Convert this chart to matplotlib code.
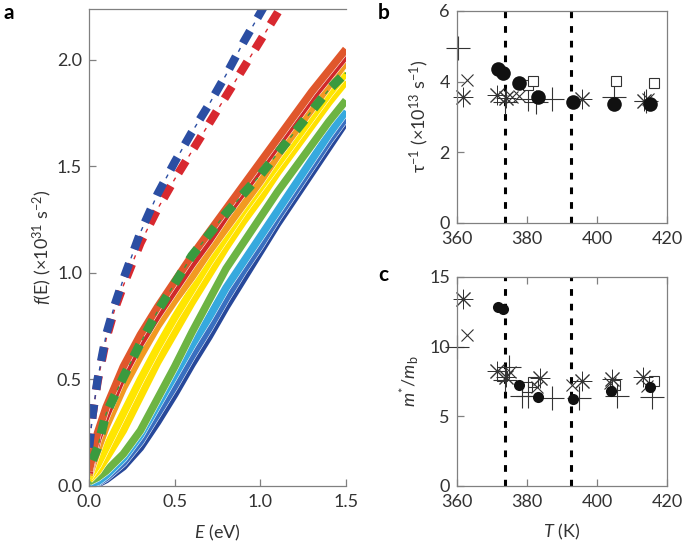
import matplotlib
matplotlib.use('Agg')
import matplotlib.pyplot as plt
import matplotlib.patheffects as pe
import numpy as np

plt.rcParams['font.family'] = ['Lato', 'DejaVu Sans']
plt.rcParams['font.size'] = 13
plt.rcParams['mathtext.fontset'] = 'custom'
plt.rcParams['mathtext.rm'] = 'Lato'
plt.rcParams['mathtext.it'] = 'Lato:italic'
plt.rcParams['mathtext.bf'] = 'Lato:bold'

txt = '#333333'
spine = '#808080'

# ---- panel a data: f(E) curves ----
E = [0, 0.05, 0.1, 0.2, 0.3, 0.4, 0.5, 0.6, 0.7, 0.8, 0.9, 1.0, 1.1, 1.2, 1.3, 1.4, 1.5]
f_darkblue = [0.0, 0.01, 0.03, 0.09, 0.18, 0.30, 0.43, 0.57, 0.70, 0.84, 0.97, 1.10, 1.23, 1.35, 1.47, 1.59, 1.71]
f_blue = [0.0, 0.015, 0.04, 0.11, 0.21, 0.34, 0.47, 0.61, 0.74, 0.88, 1.01, 1.13, 1.26, 1.38, 1.50, 1.62, 1.73]
f_lightblue = [0.01, 0.02, 0.05, 0.13, 0.24, 0.38, 0.52, 0.66, 0.79, 0.93, 1.05, 1.17, 1.29, 1.41, 1.53, 1.65, 1.76]
f_green = [0.02, 0.04, 0.07, 0.15, 0.26, 0.41, 0.56, 0.72, 0.87, 1.02, 1.14, 1.26, 1.38, 1.49, 1.60, 1.71, 1.81]
f_yellow2 = [0.03, 0.07, 0.13, 0.26, 0.42, 0.58, 0.72, 0.86, 0.99, 1.12, 1.24, 1.35, 1.47, 1.58, 1.69, 1.80, 1.90]
f_yellow = [0.04, 0.10, 0.18, 0.34, 0.50, 0.65, 0.79, 0.92, 1.05, 1.17, 1.29, 1.40, 1.51, 1.62, 1.73, 1.84, 1.94]
f_orange = [0.05, 0.17, 0.28, 0.46, 0.61, 0.75, 0.87, 0.98, 1.10, 1.21, 1.32, 1.43, 1.55, 1.66, 1.77, 1.88, 1.99]
f_red = [0.06, 0.22, 0.33, 0.52, 0.67, 0.80, 0.92, 1.04, 1.15, 1.27, 1.38, 1.49, 1.60, 1.71, 1.82, 1.92, 2.02]
f_orangered = [0.07, 0.25, 0.37, 0.56, 0.71, 0.84, 0.96, 1.08, 1.19, 1.30, 1.41, 1.52, 1.63, 1.74, 1.85, 1.95, 2.05]

solid_curves = [f_darkblue, f_blue, f_lightblue, f_green, f_yellow2, f_yellow, f_orange, f_red, f_orangered]
solid_colors = ['#27489a', '#3a6fc0', '#36a9de', '#6db443', '#ffe100', '#ffe600', '#f29a22', '#d0292a', '#e0572c']

E_dblue = [0, 0.02, 0.05, 0.1, 0.15, 0.2, 0.3, 0.4, 0.5, 0.6, 0.7, 0.8, 0.9, 1.0, 1.05]
f_dblue = [0.18, 0.33, 0.50, 0.71, 0.85, 0.97, 1.19, 1.37, 1.52, 1.66, 1.79, 1.93, 2.08, 2.22, 2.29]
E_dred = [0, 0.02, 0.05, 0.1, 0.15, 0.2, 0.3, 0.4, 0.5, 0.6, 0.7, 0.8, 0.9, 1.0, 1.1, 1.15]
f_dred = [0.18, 0.33, 0.49, 0.69, 0.83, 0.94, 1.14, 1.30, 1.44, 1.57, 1.70, 1.83, 1.96, 2.09, 2.22, 2.29]
E_dgreen = [0.02, 0.05, 0.1, 0.2, 0.3, 0.4, 0.5, 0.6, 0.7, 0.8, 0.9, 1.0, 1.1, 1.2, 1.3, 1.4, 1.5]
f_dgreen = [0.12, 0.18, 0.34, 0.51, 0.67, 0.82, 0.95, 1.08, 1.18, 1.28, 1.37, 1.46, 1.56, 1.66, 1.76, 1.86, 1.94]

# ---- panel b data: scattering rate ----
b_circ_T = [371.8, 373.2, 377.8, 383.2, 393.2, 404.7, 415.1]
b_circ_y = [4.35, 4.25, 3.95, 3.56, 3.43, 3.37, 3.37]
b_sq_T = [380.2, 381.8, 405.3, 416.1]
b_sq_y = [3.90, 4.02, 4.02, 3.95]
b_plus_T = [360.3, 373.8, 380.2, 382.6, 387.0, 404.9, 414.0]
b_plus_y = [4.95, 3.43, 3.50, 3.43, 3.50, 3.56, 3.46]
b_x_T = [363.0, 375.8, 377.6, 414.5]
b_x_y = [4.05, 3.56, 3.58, 3.50]
b_ast_T = [361.8, 371.4, 374.0, 395.6, 413.5]
b_ast_y = [3.56, 3.62, 3.52, 3.50, 3.46]

# ---- panel c data: effective mass ----
c_circ_T = [371.8, 373.2, 377.8, 383.0, 393.0, 404.0, 415.0]
c_circ_y = [12.83, 12.70, 7.25, 6.39, 6.22, 6.82, 7.08]
c_ast_T = [361.8, 371.5, 374.0, 383.7, 395.6, 404.2, 413.2]
c_ast_y = [13.42, 8.28, 7.78, 7.73, 7.56, 7.66, 7.80]
c_x_T = [363.0, 375.1, 382.8, 392.8, 403.7, 414.2]
c_x_y = [10.84, 8.20, 7.13, 7.25, 7.37, 7.18]
c_sq_T = [372.8, 379.9, 381.8, 405.1, 416.1]
c_sq_y = [7.90, 7.08, 7.49, 7.25, 7.54]
c_plus_T = [360.0, 375.0, 373.7, 378.5, 380.4, 387.0, 394.7, 405.6, 415.6]
c_plus_y = [10.0, 8.56, 7.60, 6.46, 6.46, 6.34, 6.34, 6.46, 6.41]

T_trans = [373.8, 392.6]

fig = plt.figure(figsize=(6.85, 5.46), dpi=100)
axa = fig.add_axes([0.130, 0.110, 0.375, 0.874])
axb = fig.add_axes([0.667, 0.592, 0.307, 0.388])
axc = fig.add_axes([0.667, 0.110, 0.307, 0.383])


def style(ax):
    for s in ax.spines.values():
        s.set_color(spine)
        s.set_linewidth(0.9)
    ax.tick_params(direction='in', length=5, width=0.9, color=spine,
                   labelcolor=txt, labelsize=13)
    ax.tick_params(axis='x', pad=6)
    ax.tick_params(axis='y', pad=5)


# panel a
white_edge = [pe.Stroke(linewidth=6.2, foreground='white'), pe.Normal()]
for f, c in zip(solid_curves, solid_colors):
    axa.plot(E, f, color=c, lw=5.5, solid_capstyle='butt', path_effects=white_edge)


def dashdot(ax, x, y, c, lw_thick, on, off):
    ax.plot(x, y, color=c, lw=lw_thick, linestyle=(0, (on, off)))
    per = (on + off) * lw_thick
    thin_on = 3.0
    start = on * lw_thick + (off * lw_thick - thin_on) / 2
    ax.plot(x, y, color=c, lw=1.0, linestyle=(per - start, (thin_on, per - thin_on)))


dashdot(axa, E_dred, f_dred, '#d8282f', 6, 1.7, 1.8)
dashdot(axa, E_dblue, f_dblue, '#2b4ea3', 6, 1.7, 1.8)
dashdot(axa, E_dgreen, f_dgreen, '#3a9a3e', 6.5, 1.5, 1.6)

axa.set_xlim(0, 1.5)
axa.set_ylim(0, 2.24)
axa.set_xticks([0, 0.5, 1.0, 1.5])
axa.set_xticklabels(['0.0', '0.5', '1.0', '1.5'])
axa.set_yticks([0, 0.5, 1.0, 1.5, 2.0])
axa.set_yticklabels(['0.0', '0.5', '1.0', '1.5', '2.0'])
style(axa)
axa.spines['right'].set_visible(False)
axa.set_xlabel(r'$E$ (eV)', color=txt, fontsize=13, labelpad=9)
axa.set_ylabel(r'$f$(E) (×10$^{31}$ s$^{-2}$)', color=txt, fontsize=13)
axa.yaxis.set_label_coords(-0.135, 0.5)

# panels b and c
mk = dict(linestyle='none', color='#333333', clip_on=False)
ast = (8, 2, 0)
for ax in (axb, axc):
    for t in T_trans:
        ax.axvline(t, color='black', lw=2.2, linestyle=(0, (2.2, 2.6)), zorder=1)

axb.plot(b_plus_T, b_plus_y, marker='+', ms=17, mew=0.8, **mk)
axb.plot(b_x_T, b_x_y, marker='x', ms=8, mew=0.8, **mk)
axb.plot(b_ast_T, b_ast_y, marker=ast, ms=14, mew=0.7, **mk)
axb.plot(b_sq_T, b_sq_y, marker='s', ms=7.5, mew=0.8, mfc='white', **mk)
axb.plot(b_circ_T, b_circ_y, marker='o', ms=10.5, mew=0, mfc='#111111', **mk)

axc.plot(c_plus_T, c_plus_y, marker='+', ms=17, mew=0.8, **mk)
axc.plot(c_x_T, c_x_y, marker='x', ms=8, mew=0.8, **mk)
axc.plot(c_ast_T, c_ast_y, marker=ast, ms=14, mew=0.7, **mk)
axc.plot(c_sq_T, c_sq_y, marker='s', ms=7.5, mew=0.8, mfc='none', **mk)
axc.plot(c_circ_T, c_circ_y, marker='o', ms=8, mew=0, mfc='#111111', **mk)

axb.set_xlim(360, 420)
axb.set_ylim(0, 6)
axb.set_yticks([0, 2, 4, 6])
axc.set_xlim(360, 420)
axc.set_ylim(0, 15)
axc.set_yticks([0, 5, 10, 15])
for ax in (axb, axc):
    ax.set_xticks([360, 380, 400, 420])
    style(ax)
axc.tick_params(top=True)
axb.set_ylabel('τ$^{-1}$ (×10$^{13}$ s$^{-1}$)', color=txt, fontsize=13, labelpad=6)
axc.set_ylabel(r'$m^{*}/m_{\rm b}$', color=txt, fontsize=13, labelpad=6)
axc.set_xlabel(r'$T$ (K)', color=txt, fontsize=13, labelpad=8)

fig.text(0.005, 0.995, 'a', fontsize=15, fontweight='bold', va='top')
fig.text(0.552, 0.995, 'b', fontsize=15, fontweight='bold', va='top')
fig.text(0.552, 0.515, 'c', fontsize=15, fontweight='bold', va='top')

fig.savefig('out.png', dpi=100)
